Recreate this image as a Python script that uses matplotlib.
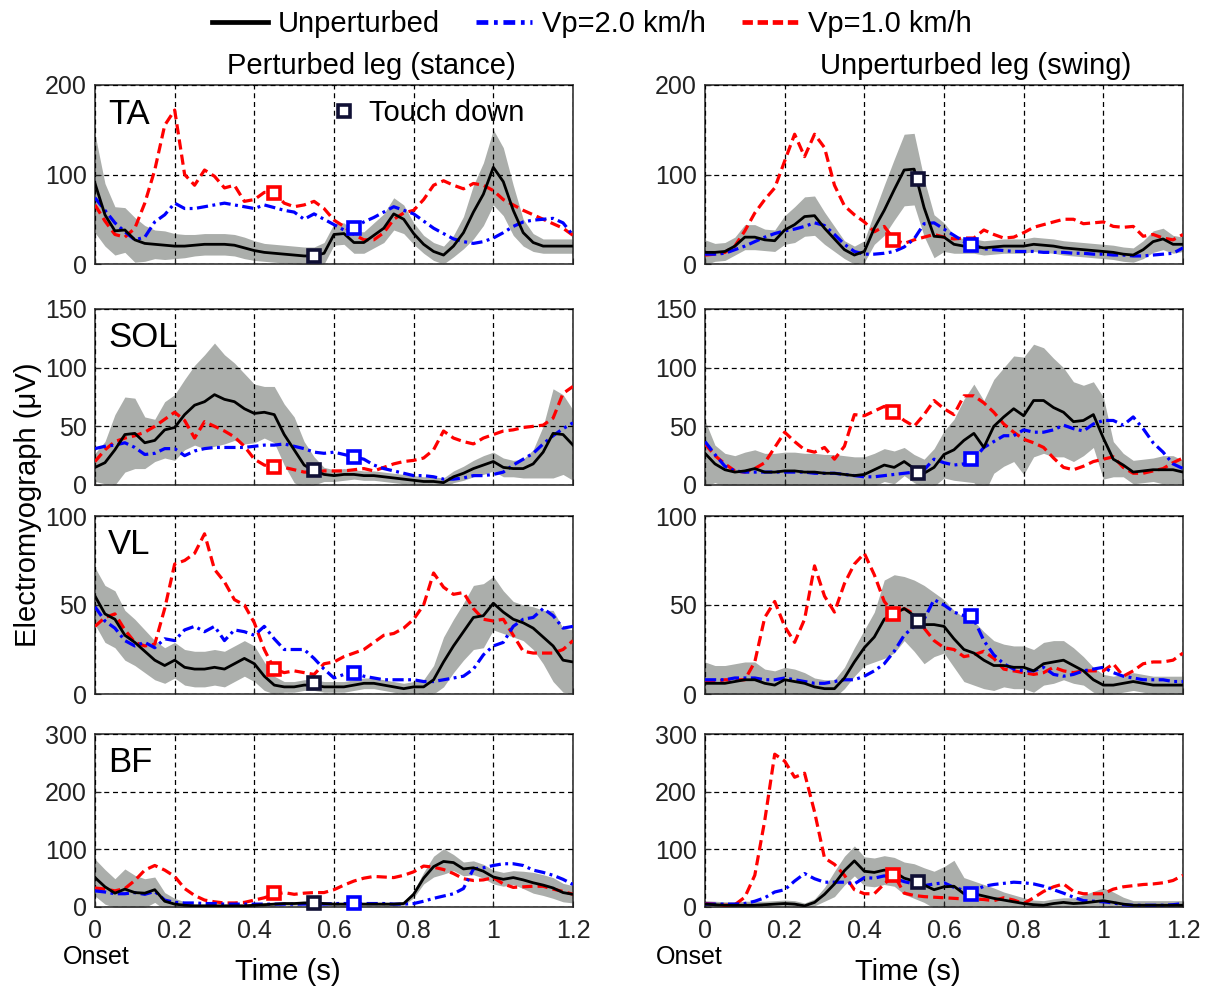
import numpy as np
import matplotlib
matplotlib.use("Agg")
import matplotlib.pyplot as plt
from matplotlib.lines import Line2D

plt.rcParams['font.family'] = ['Liberation Sans', 'DejaVu Sans']

t = np.linspace(0, 1.2, 49)  # 25 ms steps after onset

# ---------- TA ----------
ta_st_unp = [90, 55, 37, 38, 27, 23, 22, 21, 20, 20,
             21, 22, 22, 22, 21, 18, 15, 13, 12, 11,
             10, 9, 9, 12, 33, 34, 24, 24, 32, 40,
             56, 50, 34, 22, 14, 10, 20, 35, 58, 78,
             108, 92, 60, 35, 24, 20, 20, 20, 20]
ta_st_v2 = [74, 60, 46, 36, 27, 30, 47, 55, 68, 62,
            62, 64, 66, 68, 66, 64, 62, 66, 63, 60,
            58, 50, 56, 50, 44, 38, 41, 47, 52, 58,
            64, 60, 56, 48, 40, 34, 28, 25, 23, 25,
            29, 35, 42, 47, 49, 50, 51, 46, 32]
ta_st_v1 = [66, 48, 33, 30, 40, 68, 105, 155, 172, 100,
            88, 105, 98, 85, 88, 70, 72, 80, 80, 68,
            64, 66, 70, 62, 49, 42, 33, 27, 27, 35,
            50, 57, 60, 72, 88, 93, 88, 84, 90, 88,
            82, 72, 66, 60, 55, 50, 45, 40, 32]
ta_st_sd = [55, 35, 27, 25, 25, 20, 16, 16, 14, 13,
            12, 12, 12, 12, 12, 12, 11, 10, 10, 10,
            10, 10, 10, 12, 12, 12, 12, 12, 14, 16,
            18, 16, 12, 10, 10, 10, 12, 18, 30, 35,
            42, 38, 28, 15, 10, 8, 8, 8, 8]

ta_sw_unp = [13, 13, 14, 20, 30, 30, 27, 26, 38, 44,
             53, 54, 40, 28, 16, 10, 14, 40, 60, 83,
             105, 106, 63, 31, 30, 22, 20, 20, 18, 19,
             20, 20, 20, 22, 21, 20, 18, 17, 16, 15,
             14, 13, 11, 10, 16, 25, 28, 22, 22]
ta_sw_v2 = [11, 11, 12, 16, 20, 25, 30, 34, 37, 39,
            42, 46, 43, 33, 22, 14, 11, 11, 12, 14,
            19, 28, 45, 46, 39, 32, 25, 21, 17, 16,
            15, 14, 14, 14, 13, 13, 13, 12, 12, 11,
            11, 10, 10, 9, 9, 10, 11, 12, 18]
ta_sw_v1 = [10, 11, 13, 20, 37, 57, 72, 85, 115, 145,
            120, 145, 130, 88, 65, 55, 47, 36, 42, 27,
            23, 27, 30, 33, 30, 28, 29, 29, 38, 33,
            29, 30, 35, 41, 44, 47, 50, 50, 45, 46,
            47, 42, 41, 42, 31, 33, 29, 27, 33]
ta_sw_sd = [14, 10, 10, 10, 14, 14, 12, 12, 16, 20,
            22, 22, 18, 14, 10, 10, 12, 18, 28, 34,
            40, 40, 32, 24, 16, 10, 8, 8, 8, 8,
            8, 8, 8, 8, 8, 8, 8, 8, 8, 8,
            8, 8, 8, 8, 10, 12, 12, 10, 8]

# ---------- SOL ----------
sol_st_unp = [15, 19, 30, 43, 44, 36, 38, 47, 49, 60,
              68, 71, 77, 73, 71, 65, 61, 62, 60, 43,
              30, 17, 12, 9, 8, 9, 9, 8, 8, 7,
              6, 5, 4, 3, 3, 2, 7, 10, 14, 17,
              20, 15, 14, 14, 18, 28, 44, 43, 34]
sol_st_v2 = [31, 33, 34, 36, 32, 26, 27, 31, 31, 25,
             29, 31, 32, 32, 32, 32, 33, 34, 34, 35,
             33, 31, 28, 27, 28, 26, 24, 22, 17, 14,
             12, 10, 8, 8, 7, 5, 5, 6, 8, 8,
             9, 11, 17, 22, 27, 35, 42, 48, 53]
sol_st_v1 = [20, 30, 37, 40, 42, 45, 50, 56, 62, 55,
             40, 54, 50, 46, 41, 33, 22, 17, 15, 15,
             13, 11, 11, 12, 12, 12, 13, 14, 12, 15,
             18, 20, 21, 23, 30, 46, 40, 37, 35, 40,
             43, 46, 47, 49, 50, 51, 57, 78, 84]
sol_st_sd = [12, 18, 30, 32, 30, 22, 18, 24, 28, 30,
             34, 40, 44, 38, 33, 30, 25, 22, 24, 26,
             28, 20, 12, 6, 5, 5, 4, 4, 4, 4,
             4, 4, 4, 4, 4, 4, 5, 6, 7, 8,
             8, 8, 7, 8, 12, 22, 38, 34, 30]

sol_sw_unp = [27, 18, 13, 11, 12, 14, 11, 11, 12, 12,
              11, 11, 10, 10, 9, 8, 9, 13, 17, 15,
              20, 14, 10, 15, 26, 30, 38, 44, 32, 50,
              58, 65, 59, 72, 72, 66, 62, 54, 55, 60,
              40, 22, 17, 11, 12, 13, 13, 13, 11]
sol_sw_v2 = [37, 26, 16, 12, 11, 11, 11, 11, 11, 11,
             11, 10, 10, 10, 9, 8, 7, 7, 8, 9,
             10, 11, 13, 22, 19, 17, 18, 22, 32, 37,
             42, 42, 47, 45, 45, 47, 51, 48, 46, 52,
             55, 55, 51, 58, 48, 36, 28, 18, 14]
sol_sw_v1 = [35, 25, 18, 12, 11, 14, 19, 32, 45, 37,
             30, 28, 32, 22, 33, 60, 59, 63, 67, 62,
             55, 50, 60, 72, 65, 60, 76, 76, 70, 62,
             52, 45, 39, 36, 32, 23, 15, 13, 16, 20,
             22, 24, 15, 10, 10, 12, 14, 19, 23]
sol_sw_sd = [28, 16, 14, 14, 16, 16, 16, 16, 16, 16,
             16, 16, 16, 16, 16, 16, 15, 14, 14, 14,
             12, 12, 12, 16, 20, 26, 35, 42, 40, 40,
             42, 45, 50, 48, 45, 42, 38, 34, 30, 28,
             35, 15, 10, 10, 10, 10, 12, 12, 10]

# ---------- VL ----------
vl_st_unp = [55, 45, 42, 33, 29, 24, 19, 16, 19, 15,
             14, 14, 15, 14, 17, 20, 17, 10, 5, 4,
             4, 5, 5, 4, 4, 4, 5, 6, 6, 5,
             4, 3, 4, 4, 8, 18, 27, 35, 43, 44,
             51, 46, 42, 40, 37, 32, 27, 19, 18]
vl_st_v2 = [49, 41, 37, 30, 27, 29, 26, 31, 30, 36,
            38, 35, 38, 30, 36, 35, 33, 38, 31, 25,
            25, 25, 20, 14, 9, 11, 12, 10, 9, 8,
            8, 8, 8, 7, 7, 8, 9, 10, 14, 22,
            27, 29, 38, 42, 43, 48, 44, 37, 38]
vl_st_v1 = [38, 43, 45, 36, 29, 27, 28, 48, 73, 75,
            79, 90, 70, 63, 53, 50, 40, 25, 14, 12,
            13, 12, 11, 17, 18, 21, 23, 25, 29, 33,
            34, 37, 42, 50, 68, 60, 56, 57, 48, 42,
            41, 42, 33, 24, 23, 23, 23, 25, 30]
vl_st_sd = [16, 16, 16, 14, 13, 12, 11, 10, 10, 10,
            10, 10, 10, 10, 10, 10, 10, 8, 5, 3,
            3, 3, 3, 3, 3, 3, 3, 3, 3, 3,
            3, 3, 3, 4, 8, 14, 15, 16, 18, 18,
            15, 12, 10, 10, 12, 15, 20, 18, 18]

vl_sw_unp = [6, 6, 6, 7, 8, 8, 6, 5, 8, 7,
             6, 4, 3, 3, 9, 18, 26, 32, 42, 45,
             48, 44, 39, 39, 38, 31, 25, 23, 19, 16,
             16, 15, 15, 13, 17, 18, 19, 16, 13, 8,
             5, 5, 6, 7, 6, 5, 5, 5, 5]
vl_sw_v2 = [8, 8, 8, 9, 9, 9, 8, 8, 9, 8,
            7, 6, 6, 7, 8, 8, 10, 13, 17, 24,
            33, 38, 42, 53, 50, 46, 44, 42, 30, 22,
            17, 14, 13, 13, 15, 11, 10, 11, 13, 14,
            15, 12, 10, 9, 8, 8, 8, 7, 7]
vl_sw_v1 = [7, 7, 8, 8, 8, 18, 43, 52, 38, 29,
            42, 72, 55, 46, 62, 73, 79, 67, 52, 45,
            48, 45, 37, 30, 26, 25, 21, 22, 24, 20,
            14, 13, 12, 11, 12, 15, 13, 12, 13, 13,
            13, 17, 10, 13, 17, 18, 18, 19, 23]
vl_sw_sd = [12, 10, 10, 10, 10, 10, 8, 8, 7, 7,
            6, 5, 5, 5, 6, 8, 10, 14, 22, 22,
            18, 20, 22, 18, 15, 16, 18, 18, 16, 14,
            12, 12, 12, 12, 12, 12, 11, 10, 8, 7,
            6, 5, 5, 5, 5, 5, 5, 5, 5]

# ---------- BF ----------
bf_st_unp = [51, 35, 24, 31, 25, 24, 30, 10, 5, 3,
             2, 2, 2, 2, 2, 2, 3, 4, 5, 6,
             6, 7, 7, 6, 5, 5, 5, 5, 5, 5,
             5, 6, 22, 50, 70, 79, 77, 66, 68, 62,
             52, 48, 51, 47, 42, 38, 33, 25, 22]
bf_st_v2 = [28, 26, 23, 23, 25, 22, 27, 12, 8, 7,
            7, 6, 6, 5, 5, 5, 5, 5, 5, 5,
            5, 5, 5, 5, 6, 6, 6, 6, 6, 6,
            5, 5, 6, 10, 15, 19, 23, 32, 66, 68,
            72, 75, 75, 72, 64, 60, 55, 48, 39]
bf_st_v1 = [33, 31, 28, 32, 46, 64, 72, 64, 53, 32,
            20, 12, 9, 7, 7, 8, 12, 16, 22, 25,
            22, 24, 25, 25, 30, 38, 45, 50, 53, 52,
            51, 55, 61, 71, 69, 65, 58, 49, 46, 47,
            51, 40, 34, 35, 36, 36, 31, 27, 22]
bf_st_sd = [32, 30, 25, 35, 30, 25, 22, 15, 10, 6,
            3, 3, 3, 3, 3, 3, 3, 3, 3, 3,
            3, 3, 3, 3, 3, 3, 3, 3, 3, 3,
            3, 3, 6, 10, 18, 22, 14, 12, 12, 12,
            12, 12, 12, 15, 18, 18, 18, 16, 15]

bf_sw_unp = [5, 4, 3, 3, 3, 3, 4, 5, 6, 5,
             2, 8, 22, 40, 63, 80, 62, 60, 64, 61,
             50, 45, 38, 30, 35, 36, 23, 23, 19, 15,
             12, 9, 6, 4, 3, 6, 8, 6, 7, 9,
             11, 8, 5, 3, 3, 3, 3, 3, 3]
bf_sw_v2 = [5, 5, 5, 5, 6, 10, 16, 26, 30, 45,
            58, 49, 43, 43, 43, 40, 51, 50, 54, 50,
            44, 40, 37, 40, 42, 34, 29, 28, 36, 39,
            41, 43, 42, 40, 36, 30, 24, 17, 11, 10,
            9, 7, 4, 3, 3, 3, 3, 4, 6]
bf_sw_v1 = [6, 5, 3, 4, 17, 55, 150, 265, 253, 225,
            232, 165, 85, 74, 55, 30, 23, 23, 40, 55,
            24, 20, 18, 17, 16, 15, 14, 14, 13, 11,
            16, 12, 6, 16, 27, 35, 40, 27, 23, 23,
            23, 31, 35, 37, 39, 40, 42, 46, 55]
bf_sw_sd = [6, 6, 6, 6, 7, 7, 6, 6, 6, 6,
            5, 6, 12, 22, 25, 26, 25, 25, 25, 25,
            28, 30, 30, 32, 35, 45, 28, 22, 20, 18,
            14, 12, 10, 8, 8, 8, 8, 10, 14, 18,
            22, 18, 12, 8, 8, 8, 8, 8, 8]

# touch-down instants (unperturbed, Vp=2.0, Vp=1.0) and the EMG value there
td_st_t = [0.55, 0.65, 0.45]
td_sw_t = [0.535, 0.667, 0.473]
ta_st_td = [9, 40, 79]
ta_sw_td = [95, 21, 27]
sol_st_td = [13, 24, 15]
sol_sw_td = [10, 22, 62]
vl_st_td = [6, 12, 14]
vl_sw_td = [41, 44, 45]
bf_st_td = [7, 7, 24]
bf_sw_td = [43, 23, 56]

muscles = ['TA', 'SOL', 'VL', 'BF']
y_max = [200, 150, 100, 300]
y_ticks = [[0, 100, 200], [0, 50, 100, 150], [0, 50, 100], [0, 100, 200, 300]]
x_ticks = [0, 0.2, 0.4, 0.6, 0.8, 1.0, 1.2]
x_ticklabels = ['0', '0.2', '0.4', '0.6', '0.8', '1', '1.2']

stance = [(ta_st_unp, ta_st_v2, ta_st_v1, ta_st_sd, ta_st_td),
          (sol_st_unp, sol_st_v2, sol_st_v1, sol_st_sd, sol_st_td),
          (vl_st_unp, vl_st_v2, vl_st_v1, vl_st_sd, vl_st_td),
          (bf_st_unp, bf_st_v2, bf_st_v1, bf_st_sd, bf_st_td)]
swing = [(ta_sw_unp, ta_sw_v2, ta_sw_v1, ta_sw_sd, ta_sw_td),
         (sol_sw_unp, sol_sw_v2, sol_sw_v1, sol_sw_sd, sol_sw_td),
         (vl_sw_unp, vl_sw_v2, vl_sw_v1, vl_sw_sd, vl_sw_td),
         (bf_sw_unp, bf_sw_v2, bf_sw_v1, bf_sw_sd, bf_sw_td)]

c_unp, c_v2, c_v1 = 'black', '#0000ff', '#ff0000'
c_td = ['#101035', c_v2, c_v1]
band_c = '#abaeab'
ls_v1 = (0, (3.2, 1.6))
ls_v2 = (0, (3.5, 1.4, 0.9, 1.4))

W, H = 1212, 992
fig = plt.figure(figsize=(W / 100, H / 100), dpi=100)

rows_px = [(85, 264), (309, 485), (516, 694), (734, 907)]
cols_px = [(95, 573), (705, 1183)]


def draw(ax, data, td_t, row):
    unp, v2, v1, sd, td = data
    unp = np.array(unp, float)
    sd = np.array(sd, float)
    ax.fill_between(t, unp - sd, unp + sd, color=band_c, lw=0, zorder=1)
    ax.plot(t, v1, color=c_v1, lw=2.3, ls=ls_v1, zorder=3)
    ax.plot(t, v2, color=c_v2, lw=2.3, ls=ls_v2, zorder=3)
    ax.plot(t, unp, color=c_unp, lw=2.0, zorder=4)
    for x, y, c in zip(td_t, td, c_td):
        ax.plot(x, y, marker='s', ms=9, mew=2.6, mfc='white', mec=c, zorder=5,
                clip_on=False)
    ax.set_xlim(0, 1.2)
    ax.set_ylim(0, y_max[row])
    ax.set_yticks(y_ticks[row])
    ax.set_xticks(x_ticks)
    if row == 3:
        ax.set_xticklabels(x_ticklabels)
    else:
        ax.set_xticklabels([])
    ax.grid(True, color='black', ls=(0, (4, 3)), lw=0.9)
    ax.set_axisbelow(False)
    ax.tick_params(direction='in', length=4, labelsize=18, pad=6,
                   colors='#222222')
    ax.tick_params(axis='x', pad=9)
    for s in ax.spines.values():
        s.set_color('#333333')
        s.set_linewidth(1.2)


for r in range(4):
    top, bot = rows_px[r]
    for c in range(2):
        x0, x1 = cols_px[c]
        ax = fig.add_axes([x0 / W, 1 - bot / H, (x1 - x0) / W, (bot - top) / H])
        if c == 0:
            draw(ax, stance[r], td_st_t, r)
            ax.text(0.027, 0.93, muscles[r], transform=ax.transAxes,
                    fontsize=25, va='top', ha='left')
            if r == 0:
                h = Line2D([], [], ls='none', marker='s', ms=9, mew=2.6,
                           mfc='white', mec=c_td[0])
                ax.legend([h], ['Touch down'], loc='center left',
                          bbox_to_anchor=(0.49, 0.845), frameon=False,
                          fontsize=21, handlelength=1.0, handletextpad=0.35,
                          borderpad=0, borderaxespad=0)
        else:
            draw(ax, swing[r], td_sw_t, r)

# top legend
handles = [Line2D([], [], color=c_unp, lw=3.4),
           Line2D([], [], color=c_v2, lw=3.4, ls=(0, (2.5, 1.2, 0.8, 1.2))),
           Line2D([], [], color=c_v1, lw=3.4, ls=(0, (2.2, 1.0)))]
fig.legend(handles, ['Unperturbed', 'Vp=2.0 km/h', 'Vp=1.0 km/h'],
           loc='center', bbox_to_anchor=(592 / W, 1 - 24 / H), ncol=3,
           frameon=False, fontsize=21, handlelength=1.9, handletextpad=0.35,
           columnspacing=1.25, borderpad=0)

fig.text(371 / W, 1 - 66 / H, 'Perturbed leg (stance)', ha='center',
         va='center', fontsize=21)
fig.text(976 / W, 1 - 66 / H, 'Unperturbed leg (swing)', ha='center',
         va='center', fontsize=21)
fig.text(28 / W, 1 - 505 / H, 'Electromyograph (\u03bcV)', rotation=90,
         ha='center', va='center', fontsize=21)
fig.text(288 / W, 1 - 972 / H, 'Time (s)', ha='center', va='center',
         fontsize=21)
fig.text(908 / W, 1 - 972 / H, 'Time (s)', ha='center', va='center',
         fontsize=21)
fig.text(96 / W, 1 - 957 / H, 'Onset', ha='center', va='center', fontsize=18)
fig.text(689 / W, 1 - 957 / H, 'Onset', ha='center', va='center', fontsize=18)

fig.savefig('out.png', dpi=100)
